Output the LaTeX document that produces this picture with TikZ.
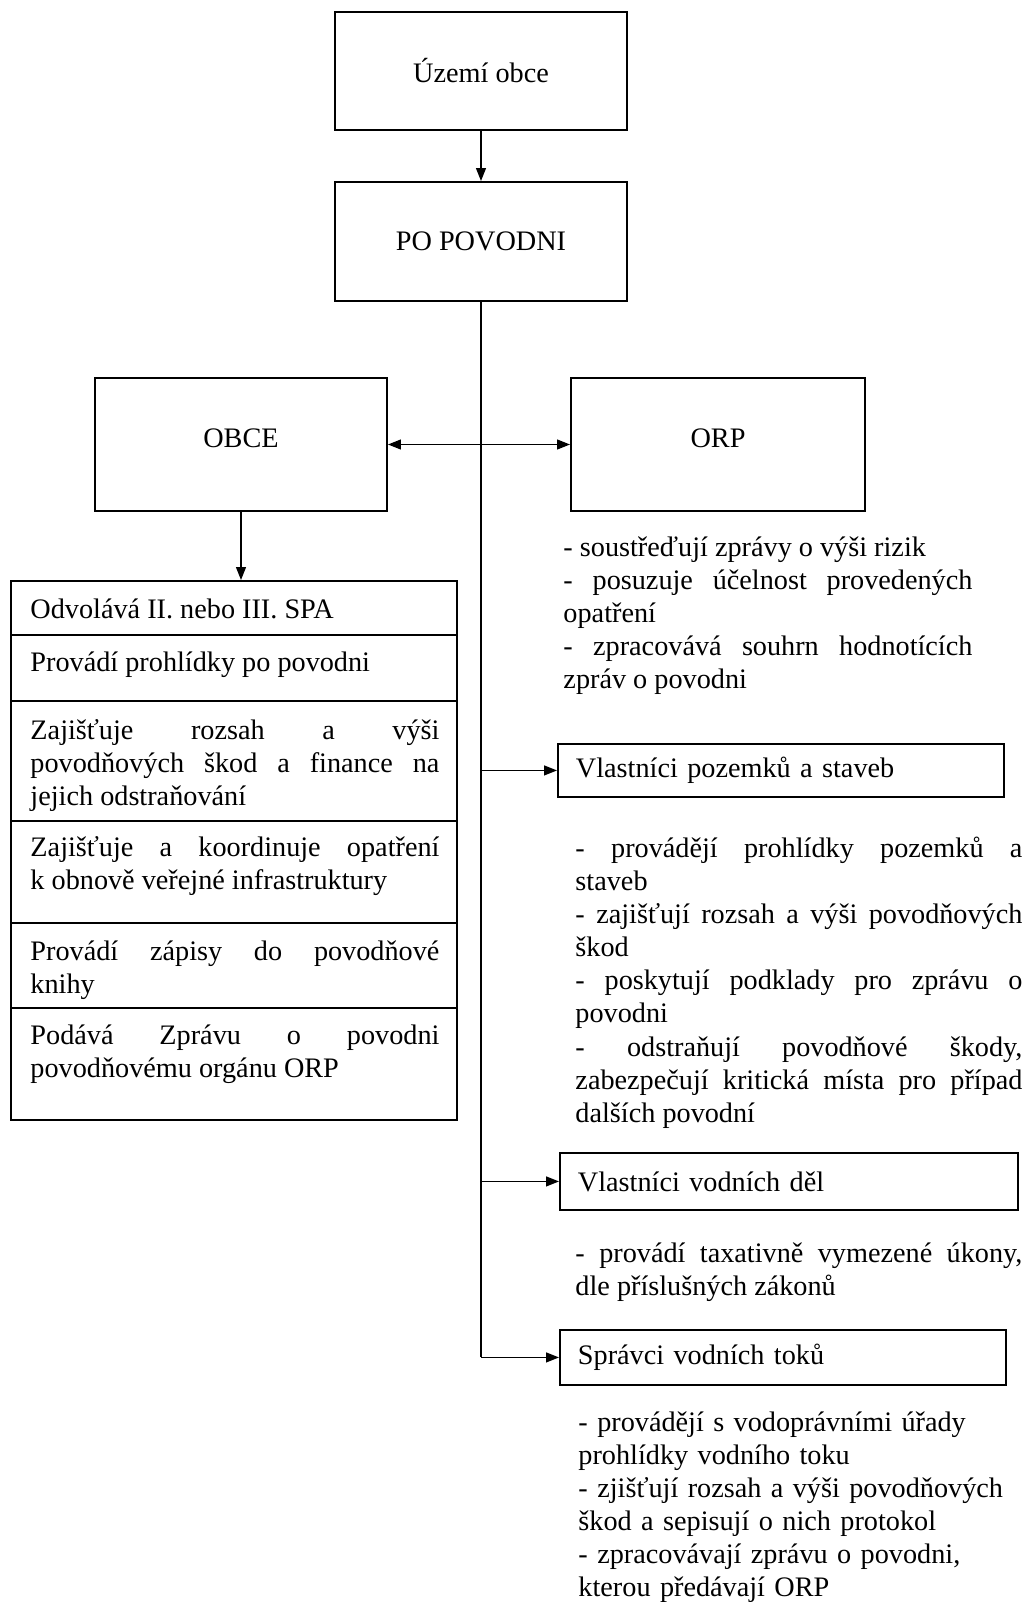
\documentclass[tikz,border=0pt]{standalone}
\usepackage{fontspec}
\setmainfont{Liberation Serif}
\usetikzlibrary{arrows.meta}
\newcommand{\pxu}{0.425pt}

\begin{document}
\begin{tikzpicture}[x=0.425pt, y=-0.425pt]
      \tikzset{box/.style={draw, line width=0.8pt, inner sep=0pt, font=\fontsize{12}{14}\selectfont},
               actor/.style={box, anchor=north west, align=left, inner xsep=7.65pt},
               cell/.style={draw, line width=0.8pt, anchor=north west, inner sep=0pt, minimum width=446*\pxu},
               note/.style={anchor=base west, inner sep=0pt, align=justify, font=\fontsize{12}{14.1}\selectfont,
                            execute at begin node={\hyphenpenalty=10000 \exhyphenpenalty=10000 \tolerance=10000}},
               link/.style={line width=0.6pt},
               tip/.style={-{Triangle[length=5.5pt, width=4.2pt]}}}

      \useasboundingbox (0,0) rectangle (1026,1602);

      \node[box, minimum width=292*\pxu, minimum height=118*\pxu] (uzemi) at (481,71) {Území obce};
      \node[box, minimum width=292*\pxu, minimum height=119*\pxu] (povodni) at (481,241.5) {PO POVODNI};
      \node[box, minimum width=292*\pxu, minimum height=133*\pxu, text depth=5.5pt] (obce) at (241,444.5) {OBCE};
      \node[box, minimum width=294*\pxu, minimum height=133*\pxu, text depth=5.5pt] (orp) at (718,444.5) {ORP};

      \node[cell, minimum height=54*\pxu] (r1) at (10,580) {};
      \node[cell, minimum height=66*\pxu] (r2) at (10,634) {};
      \node[cell, minimum height=120*\pxu] (r3) at (10,700) {};
      \node[cell, minimum height=102*\pxu] (r4) at (10,820) {};
      \node[cell, minimum height=85*\pxu] (r5) at (10,922) {};
      \node[cell, minimum height=112*\pxu] (r6) at (10,1007) {};

      \node[note, text width=409*\pxu] (t1) at (30,618) {Odvolává II. nebo III. SPA};
      \node[note, text width=409*\pxu] (t2) at (30,671) {Provádí prohlídky po povodni};
      \node[note, text width=409*\pxu] (t3) at (30,739) {Zajišťuje rozsah a výši\linebreak povodňových škod a finance na\linebreak jejich odstraňování};
      \node[note, text width=409*\pxu] (t4) at (30,856) {Zajišťuje a koordinuje opatření\linebreak k obnově veřejné infrastruktury};
      \node[note, text width=409*\pxu] (t5) at (30,960) {Provádí zápisy do povodňové\linebreak knihy};
      \node[note, text width=409*\pxu] (t6) at (30,1044) {Podává Zprávu o povodni\linebreak povodňovému orgánu ORP};

      \node[note, text width=409*\pxu] (orpnote) at (563,556) {- soustřeďují zprávy o výši rizik\par
            - posuzuje účelnost provedených\linebreak opatření\par
            - zpracovává souhrn hodnotících\linebreak zpráv o povodni};

      \node[actor, text width=174.25pt, minimum height=53*\pxu] (pozemky) at (557,743) {Vlastníci pozemků a staveb};
      \node[note, text width=447*\pxu] (pozemkynote) at (575,857) {- provádějí prohlídky pozemků a\linebreak staveb\par
            - zajišťují rozsah a výši povodňových\linebreak škod\par
            - poskytují podklady pro zprávu o\linebreak povodni\par
            - odstraňují povodňové škody,\linebreak zabezpečují kritická místa pro případ\linebreak dalších povodní};

      \node[actor, text width=179.35pt, minimum height=57*\pxu] (vodni) at (559,1152) {Vlastníci vodních děl};
      \node[note, text width=447*\pxu] (vodninote) at (575,1262) {- provádí taxativně vymezené úkony,\linebreak dle příslušných zákonů};

      \node[actor, text width=174.25pt, minimum height=55*\pxu] (spravci) at (559,1329) {Správci vodních toků};
      \node[note, text width=447*\pxu, align=left] (spravcinote) at (578,1431) {- provádějí s vodoprávními úřady\\
            prohlídky vodního toku\\
            - zjišťují rozsah a výši povodňových\\
            škod a sepisují o nich protokol\\
            - zpracovávají zprávu o povodni,\\
            kterou předávají ORP};

      \coordinate (listtop) at (obce.south |- r1.north);
      \coordinate (j1) at (povodni.south |- pozemky.west);
      \coordinate (j2) at (povodni.south |- vodni.west);
      \coordinate (j3) at (povodni.south |- spravci.west);

      \draw[link, tip] (uzemi) -- (povodni);
      \draw[link] (povodni.south) -- (j3);
      \draw[link, {Triangle[length=5.5pt, width=4.2pt]}-{Triangle[length=5.5pt, width=4.2pt]}] (obce) -- (orp);
      \draw[link, tip] (obce.south) -- (listtop);
      \draw[link, tip] (j1) -- (pozemky.west);
      \draw[link, tip] (j2) -- (vodni.west);
      \draw[link, tip] (j3) -- (spravci.west);
\end{tikzpicture}
\end{document}
